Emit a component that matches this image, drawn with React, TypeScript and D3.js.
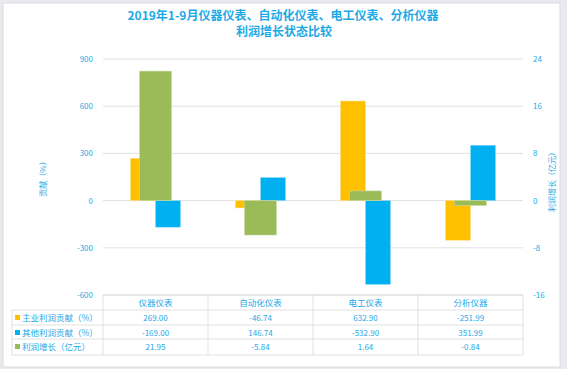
import * as d3 from "d3";
import React from "react";

const categories = ["仪器仪表", "自动化仪表", "电工仪表", "分析仪器"];
const mainContribution = [269.0, -46.74, 632.9, -251.99];
const otherContribution = [-169.0, 146.74, -532.9, 351.99];
const profitGrowth = [21.95, -5.84, 1.64, -0.84];
const leftTicks = [-600, -300, 0, 300, 600, 900];
const rightTicks = [-16, -8, 0, 8, 16, 24];
const seriesNames = ["主业利润贡献（%）", "其他利润贡献（%）", "利润增长（亿元）"];

const ORANGE = "#FFC000";
const BLUE = "#00B0F0";
const GREEN = "#9BBB59";
const TEXT = "#1DA9E6";
const GRID = "#D9D9D9";
const FONT = "'Noto Sans CJK SC', 'Noto Sans', sans-serif";

export default function App() {
  const width = 567;
  const height = 369;
  const plotLeft = 103;
  const plotRight = 523;
  const plotTop = 59;
  const plotBottom = 295;

  const x = d3.scaleBand<string>().domain(categories).range([plotLeft, plotRight]);
  const yL = d3.scaleLinear().domain([-600, 900]).range([plotBottom, plotTop]);
  const yR = d3.scaleLinear().domain([-16, 24]).range([plotBottom, plotTop]);
  const sub = d3.scaleBand<string>().domain(["main", "other"]).range([-25, 25]);
  const greenW = 32;

  // table rows
  const rowTops = [295, 310, 325, 339, 355];
  const colEdges = [plotLeft, ...categories.map((c) => (x(c) as number) + x.bandwidth())];
  const rowsData = [mainContribution, otherContribution, profitGrowth];
  const rowColors = [ORANGE, BLUE, GREEN];

  const barRect = (y: d3.ScaleLinear<number, number>, v: number) => ({
    y: Math.min(y(v), y(0)),
    h: Math.abs(y(v) - y(0)),
  });

  return (
    <svg
      width={width}
      height={height}
      style={{ position: "absolute", left: 0, top: 0, fontFamily: FONT }}
    >
      <rect x={0} y={0} width={width} height={height} fill="#E9E9EE" />
      <rect x={3} y={3} width={557} height={364} fill="#fff" stroke="#DCDCE0" />

      {/* title */}
      <text x={283} y={20} textAnchor="middle" fontSize={12} fontWeight="bold" fill={TEXT}>
        2019年1-9月仪器仪表、自动化仪表、电工仪表、分析仪器
      </text>
      <text x={284} y={36} textAnchor="middle" fontSize={12} fontWeight="bold" fill={TEXT}>
        利润增长状态比较
      </text>

      {/* grid */}
      {leftTicks.map((t) => (
        <line key={t} x1={plotLeft} x2={plotRight} y1={yL(t)} y2={yL(t)} stroke={GRID} strokeWidth={0.8} />
      ))}

      {/* axis labels */}
      {leftTicks.map((t) => (
        <text key={t} x={93} y={yL(t) + 3} textAnchor="end" fontSize={8} fill={TEXT}>
          {t}
        </text>
      ))}
      {rightTicks.map((t) => (
        <text key={t} x={533} y={yR(t) + 3} textAnchor="start" fontSize={8} fill={TEXT}>
          {t}
        </text>
      ))}
      <text transform="translate(46,177) rotate(-90)" textAnchor="middle" fontSize={8} fill={TEXT}>
        贡献（%）
      </text>
      <text transform="translate(555,180) rotate(-90)" textAnchor="middle" fontSize={8} fill={TEXT}>
        利润增长（亿元）
      </text>

      {/* bars */}
      {categories.map((c, i) => {
        const cx = (x(c) as number) + x.bandwidth() / 2;
        const m = barRect(yL, mainContribution[i]);
        const o = barRect(yL, otherContribution[i]);
        const g = barRect(yR, profitGrowth[i]);
        return (
          <g key={c}>
            <rect x={cx + (sub("main") as number)} y={m.y} width={sub.bandwidth()} height={m.h} fill={ORANGE} stroke="#FFE08A" strokeWidth={0.5} />
            <rect x={cx + (sub("other") as number)} y={o.y} width={sub.bandwidth()} height={o.h} fill={BLUE} stroke="#8FDDF8" strokeWidth={0.5} />
            <rect x={cx - greenW / 2} y={g.y} width={greenW} height={g.h} fill={GREEN} stroke="#CCDDAA" strokeWidth={0.5} />
          </g>
        );
      })}

      {/* data table */}
      <g stroke={GRID} strokeWidth={0.8} fill="none">
        <line x1={plotLeft} x2={plotRight} y1={rowTops[0]} y2={rowTops[0]} />
        {rowTops.slice(1).map((r) => (
          <line key={r} x1={12} x2={plotRight} y1={r} y2={r} />
        ))}
        <line x1={12} x2={12} y1={rowTops[1]} y2={rowTops[4]} />
        {colEdges.map((e) => (
          <line key={e} x1={e} x2={e} y1={rowTops[0]} y2={rowTops[4]} />
        ))}
      </g>
      {categories.map((c) => (
        <text key={c} x={(x(c) as number) + x.bandwidth() / 2} y={rowTops[0] + 11} textAnchor="middle" fontSize={8.5} fill={TEXT}>
          {c}
        </text>
      ))}
      {rowsData.map((row, r) => (
        <g key={r}>
          <rect x={15} y={rowTops[r + 1] + 5} width={5} height={5} fill={rowColors[r]} />
          <text x={22} y={rowTops[r + 1] + 10.5} fontSize={8.5} fill={TEXT}>
            {seriesNames[r]}
          </text>
          {row.map((v, i) => (
            <text
              key={i}
              x={(x(categories[i]) as number) + x.bandwidth() / 2}
              y={rowTops[r + 1] + 10.5}
              textAnchor="middle"
              fontSize={8}
              fill={TEXT}
            >
              {v.toFixed(2)}
            </text>
          ))}
        </g>
      ))}
    </svg>
  );
}
